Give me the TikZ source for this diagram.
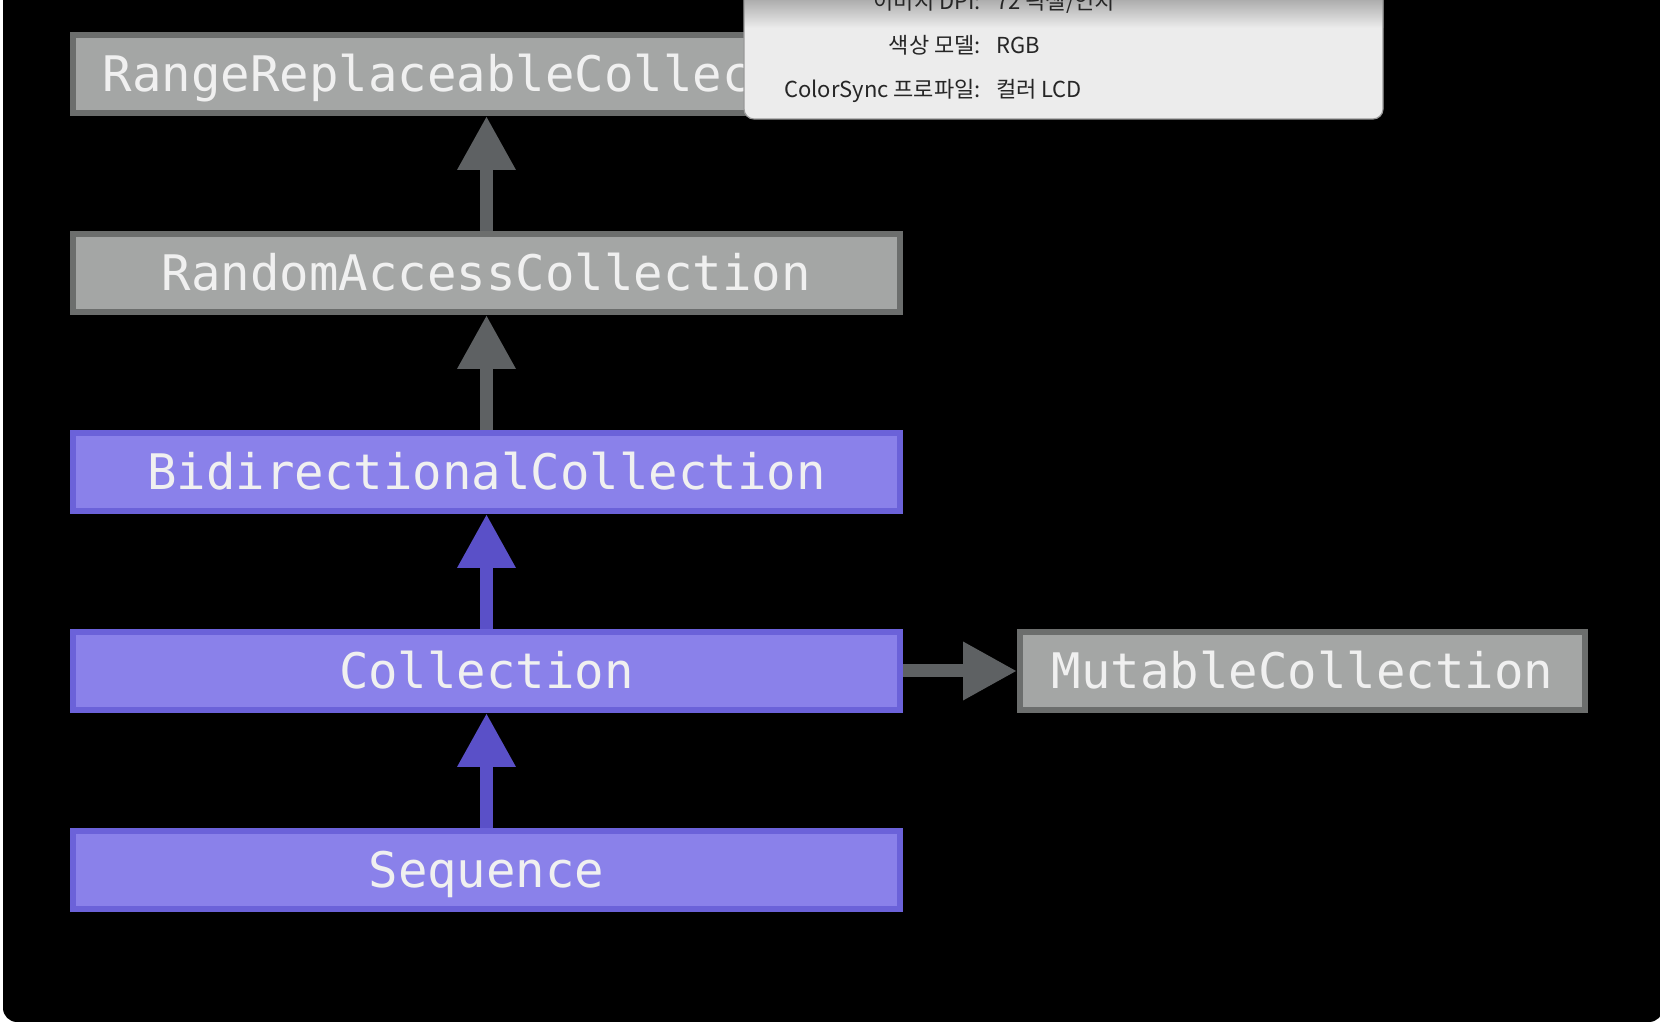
\documentclass[tikz,border=0pt]{standalone}
\usepackage{fontspec}
\setmonofont{DejaVu Sans Mono}
\newfontfamily\hangulfont{Noto Sans CJK KR}
\usetikzlibrary{arrows.meta,positioning}
\definecolor{boxgrey}{HTML}{A4A6A5}
\definecolor{boxgreyedge}{HTML}{6C6E6D}
\definecolor{boxblue}{HTML}{8A81EA}
\definecolor{boxblueedge}{HTML}{6B62D9}
\definecolor{linkgrey}{HTML}{5E6163}
\definecolor{linkblue}{HTML}{5A50C8}
\definecolor{panelgrey}{HTML}{ECECEC}
\definecolor{labeltext}{HTML}{F0F0F0}
\tikzset{
  protocol/.style={draw, line width=6pt, inner sep=0pt, minimum height=78pt,
    text height=36pt, text depth=0pt, text=labeltext,
    font=\ttfamily\fontsize{49}{55}\selectfont},
  greybox/.style={protocol, fill=boxgrey, draw=boxgreyedge},
  bluebox/.style={protocol, fill=boxblue, draw=boxblueedge},
  link/.style={line width=13pt, -{Triangle[width=55pt,length=54pt]}},
  greylink/.style={link, draw=linkgrey},
  bluelink/.style={link, draw=linkblue},
  infolabel/.style={anchor=base east, inner sep=0pt, text=black!85,
    font=\hangulfont\fontsize{22}{26}\selectfont},
  infovalue/.style={infolabel, anchor=base west}
}

\begin{document}
\begin{tikzpicture}[x=1pt,y=1pt]
  % Page and dark screen
  \useasboundingbox (0,0) rectangle (1660,1022);
  \clip (0,0) rectangle (1660,1022);
  \fill[white] (0,0) rectangle (1660,1022);
  \fill[black, rounded corners=14pt] (3,0) rectangle (1663,1060);

  % Protocol column, from the bottom up
  \node[bluebox, minimum width=827pt] (sequence) at (486.5,152) {Sequence};
  \node[bluebox, minimum width=827pt, above=115pt of sequence] (collection) {Collection};
  \node[bluebox, minimum width=827pt, above=115pt of collection] (bidirectional) {BidirectionalCollection};
  \node[greybox, minimum width=827pt, above=115pt of bidirectional] (randomaccess) {RandomAccessCollection};
  \node[greybox, minimum width=827pt, above=115pt of randomaccess] (rangereplace) {RangeReplaceableCollection};

  % Side branch
  \node[greybox, minimum width=565pt, right=114pt of collection] (mutable) {MutableCollection};

  % Connectors
  \draw[bluelink] (sequence.north) -- (collection.south);
  \draw[bluelink] (collection.north) -- (bidirectional.south);
  \draw[greylink] (bidirectional.north) -- (randomaccess.south);
  \draw[greylink] (randomaccess.north) -- (rangereplace.south);
  \draw[greylink] (collection.east) -- (mutable.west);

  % Info panel laid over the top
  \fill[panelgrey, rounded corners=10pt] (744,903) rectangle (1383,1060);
  \shade[top color=black!32, bottom color=panelgrey] (744,994) rectangle (1383,1022);
  \draw[black!40, line width=1.2pt, rounded corners=10pt] (1383,1040) -- (1383,903) -- (744,903) -- (744,1040);

  \node[infolabel] (dpilabel) at (981,1012) {이미지 DPI:};
  \node[infovalue] (dpivalue) at (996,1012) {72 픽셀/인치};
  \node[infolabel] (modellabel) at (981,968) {색상 모델:};
  \node[infovalue] (modelvalue) at (996,968) {RGB};
  \node[infolabel] (profilelabel) at (981,924) {ColorSync 프로파일:};
  \node[infovalue] (profilevalue) at (996,924) {컬러 LCD};
\end{tikzpicture}
\end{document}
